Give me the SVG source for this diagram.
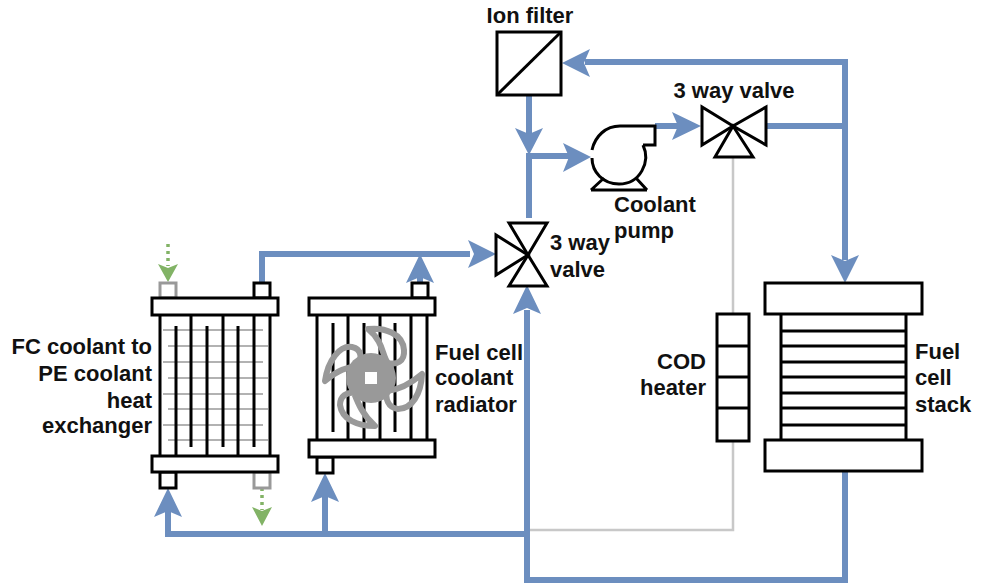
<svg xmlns="http://www.w3.org/2000/svg" width="986" height="587" viewBox="0 0 986 587">
<style>
.k{fill:#fff;stroke:#000;stroke-width:3}
.l{fill:none;stroke:#000;stroke-width:3}
.gp{fill:#fff;stroke:#999;stroke-width:3}
.g{fill:none;stroke:#999;stroke-width:1.5}
.b{fill:none;stroke:#6c8ebf;stroke-width:6}
.bh{fill:#6c8ebf}
.gl{fill:none;stroke:#c8c8c8;stroke-width:2.5}
.gd{fill:none;stroke:#82b366;stroke-width:3.5;stroke-dasharray:3 4}
.gh{fill:#82b366}
.f{fill:none;stroke:#999;stroke-width:6;stroke-linejoin:round}
text{font-family:"Liberation Sans",Arial,sans-serif;font-size:22px;font-weight:bold;fill:#111}
</style>
<rect width="986" height="587" fill="#fff"/>
<g id="connectors">
<path class="gl" d="M733 157V530H527"/>
<path class="b" d="M262 282V254H470"/>
<path class="b" d="M420 282V270"/>
<path class="b" d="M168 510V534H527"/>
<path class="b" d="M325 534V495"/>
<path class="b" d="M845 471V580H527V310"/>
<path class="b" d="M529 95V135"/>
<path class="b" d="M529 218V156H570"/>
<path class="b" d="M655 126H680"/>
<path class="b" d="M766 126H845"/>
<path class="b" d="M585 62H845V260"/>
<path class="gd" d="M168 244V266"/>
<path class="gd" d="M262 488V510"/>
<path class="bh" d="M496 254L468 240L474 254L468 268Z"/>
<path class="bh" d="M420 254L406 283L420 277L434 283Z"/>
<path class="bh" d="M168 488L154 517L168 511L182 517Z"/>
<path class="bh" d="M325 473L311 502L325 496L339 502Z"/>
<path class="bh" d="M527 285L513 314L527 308L541 314Z"/>
<path class="bh" d="M529 155L515 128L529 134L543 128Z"/>
<path class="bh" d="M591 157L563 143L569 157L563 172Z"/>
<path class="bh" d="M701 126L672 112L678 126L672 140Z"/>
<path class="bh" d="M562 63L590 49L584 63L590 77Z"/>
<path class="bh" d="M845 283L831 255L845 261L859 255Z"/>
<path class="gh" d="M168 282L158 264L168 268L178 264Z"/>
<path class="gh" d="M262 526L252 507L262 511L272 507Z"/>
</g>
<g id="heat-exchanger">
<g class="g">
<path d="M163 330H263M168 346H268M163 362H263M168 378H268M163 394H263M168 409H268M163 425H263M168 440H268"/>
</g>
<path class="l" d="M160 315V456M270 315V456M191 315V447M223 315V447M254 315V447M176 326V456M207 326V456M238 326V456"/>
<rect class="gp" x="160" y="283" width="16" height="15"/>
<rect class="k" x="254" y="283" width="16" height="15"/>
<rect class="k" x="160" y="472" width="16" height="16"/>
<rect class="gp" x="254" y="472" width="16" height="16"/>
<rect class="k" x="152" y="298" width="126" height="17"/>
<rect class="k" x="152" y="456" width="126" height="16"/>
<text x="152" y="354" text-anchor="end">FC coolant to</text>
<text x="152" y="381" text-anchor="end">PE coolant</text>
<text x="152" y="408" text-anchor="end">heat</text>
<text x="152" y="433" text-anchor="end">exchanger</text>
</g>
<g id="radiator">
<path class="l" d="M317 315V440M348 315V440M380 315V440M411 315V440M427 315V440M333 323V432M364 323V440M395 323V432"/>
<rect class="k" x="412" y="283" width="16" height="15"/>
<rect class="k" x="317" y="457" width="16" height="16"/>
<rect class="k" x="309" y="298" width="126" height="17"/>
<rect class="k" x="309" y="440" width="126" height="17"/>
<path class="f" d="M368 329C385 327 403 334 404 350C405 362 396 365 388 363C382 356 384 342 368 329Z"/>
<path class="f" d="M325 381C328 360 340 345 352 347C362 349 362 358 358 366C347 367 338 370 325 381Z"/>
<path class="f" d="M422 374C421 394 412 409 398 409C388 408 385 398 387 391C397 390 408 386 422 374Z"/>
<path class="f" d="M375 426C358 426 342 420 340 405C340 396 347 392 354 393C358 403 362 414 375 426Z"/>
<circle cx="371" cy="378" r="25" fill="#999"/>
<rect x="365" y="372" width="12" height="12" fill="#fff"/>
<text x="435" y="360">Fuel cell</text>
<text x="435" y="385">coolant</text>
<text x="435" y="412">radiator</text>
</g>
<g id="valve-lower">
<path class="k" d="M528 255L509 223H547Z"/>
<path class="k" d="M528 255L509 286H547Z"/>
<path class="k" d="M528 255L496 235V275Z"/>
<text x="550" y="250">3 way</text>
<text x="550" y="277">valve</text>
</g>
<g id="ion-filter">
<rect class="k" x="497" y="32" width="64" height="63"/>
<path class="l" d="M497 95L561 32"/>
<text x="530" y="23" text-anchor="middle">Ion filter</text>
</g>
<g id="pump">
<path class="l" d="M592 150C595 136 606 126 620 126H655V145H643M643 145C651 162 640 184 619 184C603 184 592 172 592 158"/>
<path class="l" d="M591 190H647M591 190L604 178M647 190L636 178"/>
<text x="614" y="212">Coolant</text>
<text x="614" y="238">pump</text>
</g>
<g id="valve-upper">
<path class="k" d="M733 126L702 107V145Z"/>
<path class="k" d="M733 126L766 107V145Z"/>
<path class="k" d="M733 126L715 157H753Z"/>
<text x="734" y="98" text-anchor="middle">3 way valve</text>
</g>
<g id="heater">
<rect class="k" x="717" y="314" width="32" height="127"/>
<path class="l" d="M717 346H749M717 377H749M717 408H749"/>
<text x="706" y="369" text-anchor="end">COD</text>
<text x="706" y="395" text-anchor="end">heater</text>
</g>
<g id="stack">
<path class="l" d="M781 314V440M906 314V440M781 331H906M781 346H906M781 362H906M781 377H906M781 393H906M781 408H906M781 425H906"/>
<rect class="k" x="765" y="283" width="157" height="31"/>
<rect class="k" x="765" y="440" width="157" height="31"/>
<text x="915" y="359">Fuel</text>
<text x="915" y="385">cell</text>
<text x="915" y="412">stack</text>
</g>
</svg>
